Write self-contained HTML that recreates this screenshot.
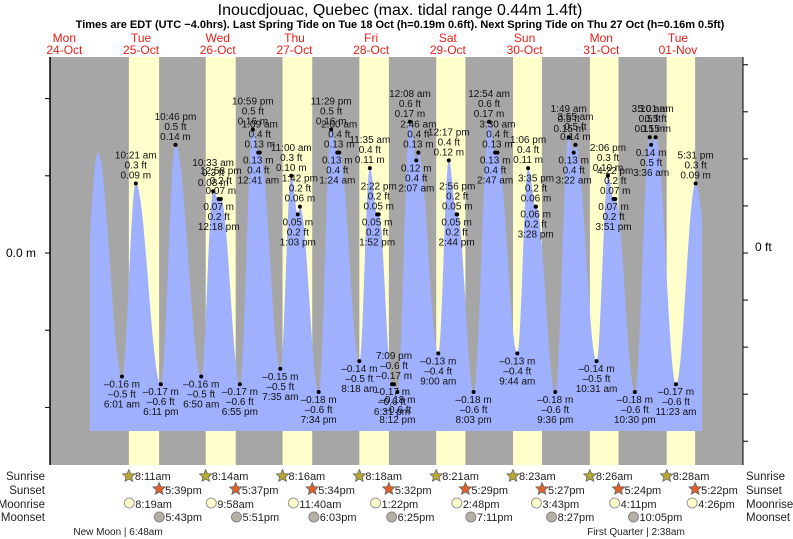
<!DOCTYPE html>
<html><head><meta charset="utf-8"><style>
html,body{margin:0;padding:0;background:#fff;}
svg{display:block;font-family:"Liberation Sans",sans-serif;}
</style></head><body>
<svg id="chart" width="793" height="539" viewBox="0 0 793 539">
<text x="400" y="15" text-anchor="middle" font-size="16" fill="#000">Inoucdjouac, Quebec (max. tidal range 0.44m 1.4ft)</text>
<text x="400" y="28" text-anchor="middle" font-size="11" font-weight="bold" fill="#000">Times are EDT (UTC −4.0hrs). Last Spring Tide on Tue 18 Oct (h=0.19m 0.6ft). Next Spring Tide on Thu 27 Oct (h=0.16m 0.5ft)</text>
<g id="days"></g>
<rect x="50" y="57" width="693" height="408" fill="#a6a6a6"/>
<g id="daylight"></g>
<path id="tide" fill="#9fb0ff"/>
<g id="marks"></g>
<line x1="50" y1="57" x2="50" y2="465" stroke="#000" stroke-width="1.5"/>
<line x1="743" y1="57" x2="743" y2="465" stroke="#000" stroke-width="1"/>
<g id="ticks"></g>
<text x="36" y="257" text-anchor="end" font-size="12">0.0 m</text>
<text x="755" y="251" font-size="12">0 ft</text>
<g font-size="11.5" fill="#222">
<text x="45" y="480" text-anchor="end">Sunrise</text>
<text x="45" y="494" text-anchor="end">Sunset</text>
<text x="45" y="508" text-anchor="end">Moonrise</text>
<text x="45" y="521" text-anchor="end">Moonset</text>
<text x="746" y="480">Sunrise</text>
<text x="746" y="494">Sunset</text>
<text x="746" y="508">Moonrise</text>
<text x="746" y="521">Moonset</text>
</g>
<g id="astro"></g>
<text x="118" y="535" text-anchor="middle" font-size="10" fill="#222">New Moon | 6:48am</text>
<text x="636" y="535" text-anchor="middle" font-size="10" fill="#222">First Quarter | 2:38am</text>
</svg>
<script>
// ---- data ----
const dayNames = ["Mon","Tue","Wed","Thu","Fri","Sat","Sun","Mon","Tue"];
const dayDates = ["24-Oct","25-Oct","26-Oct","27-Oct","28-Oct","29-Oct","30-Oct","31-Oct","01-Nov"];
const sunriseTimes = ["8:11am","8:14am","8:16am","8:18am","8:21am","8:23am","8:26am","8:28am"];
const sunsetTimes = ["5:39pm","5:37pm","5:34pm","5:32pm","5:29pm","5:27pm","5:24pm","5:22pm"];
const moonriseTimes = ["8:19am","9:58am","11:40am","1:22pm","2:48pm","3:43pm","4:11pm","4:26pm"];
const moonsetTimes = ["5:43pm","5:51pm","6:03pm","6:25pm","7:11pm","8:27pm","10:05pm"];
// tide extremes: day offset from Mon 24-Oct, time, height (m), type
const tideDay = [1,1,1,1, 2,2,2,2,2,2, 3,3,3,3,3,3,3,3, 4,4,4,4,4,4,4,4,4, 5,5,5,5,5,5,5,5, 6,6,6,6,6,6,6,6, 7,7,7,7,7,7,7,7, 8,8,8,8,8];
const tideTime = ["6:01 am","10:21 am","6:11 pm","10:46 pm",
 "6:50 am","10:33 am","12:18 pm","12:58 pm","6:55 pm","10:59 pm",
 "12:41 am","1:09 am","7:35 am","11:00 am","1:03 pm","1:42 pm","7:34 pm","11:29 pm",
 "1:24 am","2:00 am","8:18 am","11:35 am","1:52 pm","2:22 pm","6:31 pm","7:09 pm","8:12 pm",
 "12:08 am","2:07 am","2:46 am","9:00 am","12:17 pm","2:44 pm","2:56 pm","8:03 pm",
 "12:54 am","2:47 am","3:30 am","9:44 am","1:06 pm","3:28 pm","3:35 pm","9:36 pm",
 "1:49 am","3:22 am","3:55 am","10:31 am","2:06 pm","3:51 pm","4:22 pm","10:30 pm",
 "3:10 am","3:36 am","5:01 am","11:23 am","5:31 pm"];
const tideM = [-0.16,0.09,-0.17,0.14,
 -0.16,0.08,0.07,0.07,-0.17,0.16,
 0.13,0.13,-0.15,0.10,0.05,0.06,-0.18,0.16,
 0.13,0.13,-0.14,0.11,0.05,0.05,-0.17,-0.17,-0.18,
 0.17,0.12,0.13,-0.13,0.12,0.05,0.05,-0.18,
 0.17,0.13,0.13,-0.13,0.11,0.06,0.06,-0.18,
 0.15,0.13,0.14,-0.14,0.10,0.07,0.07,-0.18,
 0.15,0.14,0.15,-0.17,0.09];
const tideType = ["L","H","L","H", "L","H","L","H","L","H", "L","H","L","H","L","H","L","H",
 "L","H","L","H","L","H","L","H","L", "H","L","H","L","H","L","H","L",
 "H","L","H","L","H","L","H","L", "H","L","H","L","H","L","H","L", "H","L","H","L","H"];
// unlabeled extremes just outside the labelled range
const edgeDay = [0,0,9];
const edgeTime = ["4:30 pm","10:30 pm","0:30 am"];
const edgeM = [-0.17,0.13,-0.17];

// ---- scales ----
const X0 = 26, PXH = 3.196;
const Y0 = 253, PXM = 772;
function parseT(s){const m=s.match(/(\d+):(\d+)\s*(am|pm)?/);let h=+m[1]%12;if(m[3]==='pm')h+=12;return h+(+m[2])/60;}
function xOf(day,t){return X0+(day*24+parseT(t))*PXH;}
function xH(h){return X0+h*PXH;}
function yM(m){return Y0-m*PXM;}
const NS="http://www.w3.org/2000/svg";
function mk(tag,attrs,parent,txt){const e=document.createElementNS(NS,tag);for(const k in attrs)e.setAttribute(k,attrs[k]);if(txt!==undefined)e.textContent=txt;parent.appendChild(e);return e;}

// day labels
const gDays=document.getElementById('days');
dayNames.forEach((n,i)=>{
  const x=xH(i*24+12);
  const t1=mk('text',{x:x,y:42,'text-anchor':'middle','font-size':12,fill:'#e8201a'},gDays,n);
  
  
  const t2=mk('text',{x:x,y:54,'text-anchor':'middle','font-size':12,fill:'#e8201a'},gDays,dayDates[i]);
  
  
});

// daylight columns
const gDl=document.getElementById('daylight');
sunriseTimes.forEach((sr,i)=>{
  const x1=xOf(i+1,sr), x2=xOf(i+1,sunsetTimes[i]);
  const r=mk('rect',{x:x1,y:57,width:x2-x1,height:408,fill:'#ffffcc'},gDl);
  
  
});

// tide curve
let ext=[];
edgeDay.forEach((d,i)=>ext.push({h:d*24+parseT(edgeTime[i]),m:edgeM[i]}));
tideDay.forEach((d,i)=>ext.push({h:d*24+parseT(tideTime[i]),m:tideM[i]}));
ext.sort((a,b)=>a.h-b.h);
function level(h){
  for(let i=0;i<ext.length-1;i++){
    const a=ext[i],b=ext[i+1];
    if(h>=a.h&&h<=b.h){const f=(h-a.h)/(b.h-a.h);return a.m+(b.m-a.m)*(1-Math.cos(Math.PI*f))/2;}
  }
  return ext[ext.length-1].m;
}
const hStart=(90-X0)/PXH, hEnd=(702-X0)/PXH, yB=431;
let d=`M${xH(hStart).toFixed(1)},${yB}`;
for(let h=hStart;h<=hEnd;h+=0.1)d+=`L${xH(h).toFixed(2)},${yM(level(h)).toFixed(2)}`;
d+=`L${xH(hEnd).toFixed(1)},${yM(level(hEnd)).toFixed(2)}L${xH(hEnd).toFixed(1)},${yB}Z`;
document.getElementById('tide').setAttribute('d',d);

// extreme markers and labels
const gM=document.getElementById('marks');
function fmtM(v){return (v<0?'–':'')+Math.abs(v).toFixed(2)+' m';}
function fmtF(v){const f=Math.round(v*3.28084*10)/10;return (f<0?'–':'')+Math.abs(f).toFixed(1)+' ft';}
tideDay.forEach((dd,i)=>{
  const x=xOf(dd,tideTime[i]), y=yM(tideM[i]);
  const c=mk('circle',{cx:x,cy:y,r:2,fill:'#000'},gM);
  
  
  const g=mk('g',{'font-size':10,fill:'#111','text-anchor':'middle'},gM);
  
  
  let lines;
  if(tideType[i]==='H'){lines=[tideTime[i],fmtF(tideM[i]),fmtM(tideM[i])];lines.forEach((s,k)=>mk('text',{x:x,y:y-5-(2-k)*10},g,s));}
  else{lines=[fmtM(tideM[i]),fmtF(tideM[i]),tideTime[i]];lines.forEach((s,k)=>mk('text',{x:x,y:y+11+k*10},g,s));}
});

// ticks
const gT=document.getElementById('ticks');
[0.2,0.1,0,-0.1,-0.2].forEach(v=>{
  const l=mk('line',{x1:45,x2:50,y1:yM(v),y2:yM(v),stroke:'#000'},gT);
  
  
});
[0.8,0.6,0.4,0.2,0,-0.2,-0.4,-0.6,-0.8].forEach(v=>{
  const y=yM(v*0.3048);
  const l=mk('line',{x1:743,x2:748,y1:y,y2:y,stroke:'#000'},gT);
  
  
});

// astronomy rows
const gA=document.getElementById('astro');
function star(cx,cy,fill){
  let p=[];for(let k=0;k<10;k++){const r=k%2?3:6.5,a=-Math.PI/2+k*Math.PI/5;p.push((cx+r*Math.cos(a)).toFixed(1)+','+(cy+r*Math.sin(a)).toFixed(1));}
  return mk('polygon',{points:p.join(' '),fill:fill,stroke:'#666','stroke-width':0.8},gA);
}
function lbl(x,y,s){const t=mk('text',{x:x,y:y,'font-size':11,fill:'#222'},gA,s);return t;}
sunriseTimes.forEach((s,i)=>{
  const x=xOf(i+1,s);
  const st=star(x,476,'#b8a832');
  
  
  const t=lbl(x+6,480,s);
  
  
});
sunsetTimes.forEach((s,i)=>{
  const x=xOf(i+1,s);
  const st=star(x,489,'#e0602a');
  
  
  const t=lbl(x+6,494,s);
  
  
});
moonriseTimes.forEach((s,i)=>{
  const x=xOf(i+1,s);
  const c=mk('circle',{cx:x,cy:503,r:5,fill:'#ffffcc',stroke:'#999'},gA);
  
  
  const t=lbl(x+6,508,s);
  
  
});
moonsetTimes.forEach((s,i)=>{
  const x=xOf(i+1,s);
  const c=mk('circle',{cx:x,cy:517,r:5,fill:'#b4b0a4',stroke:'#888'},gA);
  
  
  const t=lbl(x+6,521,s);
  
  
});
</script>
</body></html>
